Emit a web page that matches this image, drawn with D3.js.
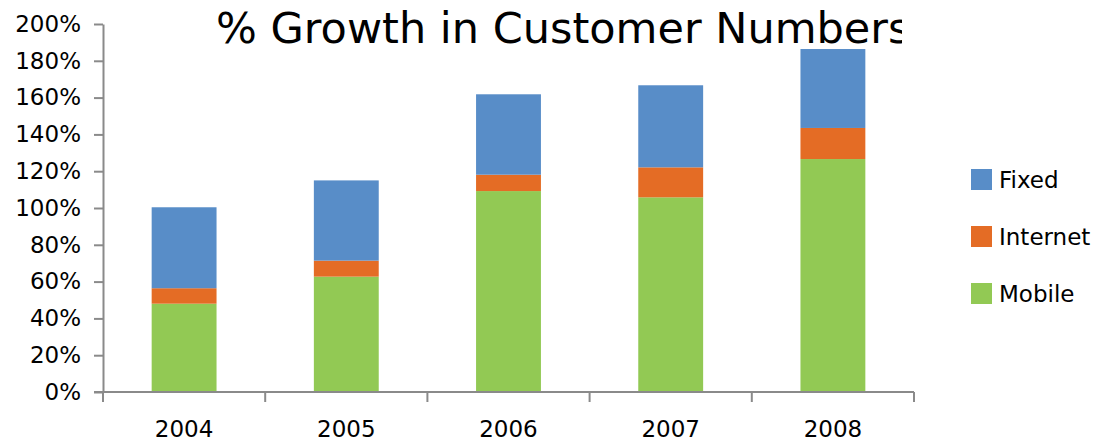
<!DOCTYPE html>
<html>
<head>
<meta charset="utf-8">
<script src="https://cdn.jsdelivr.net/npm/d3@7"></script>
<style>
  html, body { margin: 0; padding: 0; background: #fff; }
  svg { display: block; font-family: "DejaVu Sans", sans-serif; }
</style>
</head>
<body>
<svg id="chart" width="1098" height="444"></svg>
<script>
const years = ["2004", "2005", "2006", "2007", "2008"];
const mobile = [48, 62.7, 109.2, 105.8, 126.6];
const internet = [8.4, 8.7, 8.9, 16.3, 16.9];
const fixed = [44, 43.6, 43.7, 44.6, 42.9];
const seriesNames = ["Mobile", "Internet", "Fixed"];
const seriesColors = ["#92c954", "#e46c25", "#588dc8"];
const yTicks = [0, 20, 40, 60, 80, 100, 120, 140, 160, 180, 200];
const title = "% Growth in Customer Numbers";

const rows = years.map((y, i) => ({ year: y, Mobile: mobile[i], Internet: internet[i], Fixed: fixed[i] }));
const stacked = d3.stack().keys(seriesNames)(rows);

const svg = d3.select("#chart");
const x = d3.scaleBand().domain(years).range([103, 914]).paddingInner(0.6).paddingOuter(0.3);
const y = d3.scaleLinear().domain([0, 200]).range([392, 24]);
const axisColor = "#8a8a8a";

// bars
svg.append("g").selectAll("g").data(stacked).join("g")
  .attr("fill", (d, i) => seriesColors[i])
  .selectAll("rect").data(d => d).join("rect")
  .attr("x", d => x(d.data.year))
  .attr("width", x.bandwidth())
  .attr("y", d => y(d[1]))
  .attr("height", d => y(d[0]) - y(d[1]));

// y axis
const yAxis = svg.append("g").attr("transform", "translate(103,0)")
  .call(d3.axisLeft(y).tickValues(yTicks).tickFormat(d => d + "%").tickSize(9).tickSizeOuter(0).tickPadding(13));
yAxis.selectAll("line, path").attr("stroke", axisColor).attr("stroke-width", 2);
yAxis.selectAll("text").attr("font-size", 23).attr("fill", "#000").attr("font-family", "DejaVu Sans");

// x axis
const xAxis = svg.append("g").attr("transform", "translate(0,392)");
xAxis.append("line").attr("x1", 94).attr("x2", 914).attr("y1", 0).attr("y2", 0)
  .attr("stroke", axisColor).attr("stroke-width", 2);
const boundaries = years.map(yv => x(yv) - x.step() * x.paddingInner() / 2 - (x.step()*0) );
const edges = [x.range()[0]].concat(years.map(yv => x(yv) + x.bandwidth() + (x.step() - x.bandwidth()) / 2));
xAxis.selectAll("line.tk").data(edges).join("line").attr("class", "tk")
  .attr("x1", d => d).attr("x2", d => d).attr("y1", 0).attr("y2", 10)
  .attr("stroke", axisColor).attr("stroke-width", 2);
xAxis.selectAll("text").data(years).join("text")
  .attr("x", d => x(d) + x.bandwidth() / 2).attr("y", 45)
  .attr("text-anchor", "middle").attr("font-size", 23).attr("fill", "#000")
  .text(d => d);

// title (clipped like reference)
svg.append("clipPath").attr("id", "tclip").append("rect")
  .attr("x", 0).attr("y", 0).attr("width", 902).attr("height", 60);
svg.append("text").attr("clip-path", "url(#tclip)")
  .attr("x", 216).attr("y", 43).attr("font-size", 43).attr("fill", "#000")
  .text(title);

// legend
const legendOrder = ["Fixed", "Internet", "Mobile"];
const lg = svg.append("g").selectAll("g").data(legendOrder).join("g")
  .attr("transform", (d, i) => `translate(971,${169 + i * 57})`);
lg.append("rect").attr("width", 21).attr("height", 21)
  .attr("fill", d => seriesColors[seriesNames.indexOf(d)]);
lg.append("text").attr("x", 28).attr("y", 19).attr("font-size", 23).attr("fill", "#000").text(d => d);
</script>
</body>
</html>
